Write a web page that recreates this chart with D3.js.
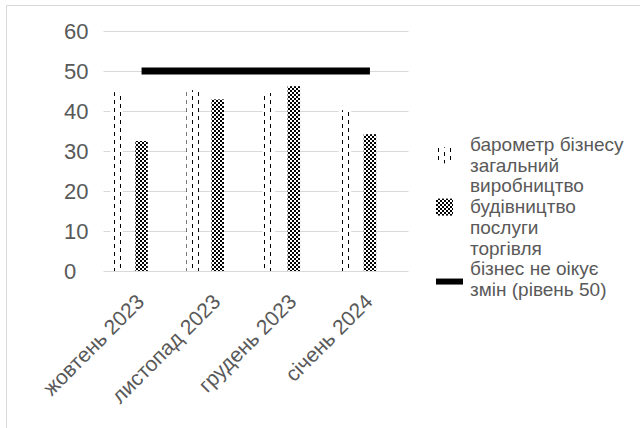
<!DOCTYPE html>
<html>
<head>
<meta charset="utf-8">
<script src="https://cdn.jsdelivr.net/npm/d3@7"></script>
<style>
  html, body { margin: 0; padding: 0; background: #fff; }
  svg { display: block; }
  text { font-family: "Liberation Sans", Arial, sans-serif; fill: #595959; }
</style>
</head>
<body>
<svg id="chart" width="640" height="428"></svg>
<script>
// ---- data ----
const categories = ["жовтень 2023", "листопад 2023", "грудень 2023", "січень 2024"];
const barSeries = ["барометр бізнесу загальний", "виробництво", "будівництво", "послуги", "торгівля"];
const barometer = [44.7, 45.2, 44.5, 40.2];
const construction = [32.5, 42.9, 46.2, 34.2];
const noChange = [50, 50, 50, 50];
const yTicks = [0, 10, 20, 30, 40, 50, 60];
const legendLines = [
  ["барометр бізнесу", "загальний"],
  ["виробництво"],
  ["будівництво"],
  ["послуги"],
  ["торгівля"],
  ["бізнес не оікує", "змін (рівень 50)"]
];

// ---- setup ----
const svg = d3.select("#chart");
const defs = svg.append("defs");

// dashed vertical pattern
const pv = defs.append("pattern").attr("id", "dashv")
  .attr("patternUnits", "userSpaceOnUse").attr("width", 12).attr("height", 8);
pv.append("rect").attr("width", 12).attr("height", 8).attr("fill", "#fff");
pv.append("line").attr("x1", 0.5).attr("x2", 0.5).attr("y1", 0).attr("y2", 4).attr("stroke", "#000").attr("stroke-width", 1);
pv.append("line").attr("x1", 6.5).attr("x2", 6.5).attr("y1", 4).attr("y2", 8).attr("stroke", "#000").attr("stroke-width", 1);

// checker pattern
const pc = defs.append("pattern").attr("id", "checker")
  .attr("patternUnits", "userSpaceOnUse").attr("width", 4).attr("height", 4);
pc.append("rect").attr("width", 4).attr("height", 4).attr("fill", "#fff");
pc.append("rect").attr("width", 2).attr("height", 2).attr("fill", "#000");
pc.append("rect").attr("x", 2).attr("y", 2).attr("width", 2).attr("height", 2).attr("fill", "#000");

// frame
svg.append("path").attr("d", "M6.5,428 V5.5 H640")
  .attr("fill", "none").attr("stroke", "#d9d9d9").attr("stroke-width", 1);

const x = d3.scaleBand().domain(categories).range([103.5, 408]).paddingInner(0.18).paddingOuter(0.09);
const xs = d3.scaleBand().domain(barSeries).range([0, x.bandwidth()]);
const y = d3.scaleLinear().domain([0, 60]).range([271, 31]);

// gridlines
svg.append("g").selectAll("line").data(yTicks).join("line")
  .attr("x1", 103.5).attr("x2", 408.5)
  .attr("y1", d => Math.round(y(d)) + 0.5).attr("y2", d => Math.round(y(d)) + 0.5)
  .attr("stroke", "#d9d9d9").attr("stroke-width", 1);

// y tick labels (left-aligned as in the reference)
svg.append("g").selectAll("text").data(yTicks).join("text")
  .attr("x", 64).attr("y", d => y(d)).attr("dy", "0.36em")
  .attr("text-anchor", "start").attr("font-size", 22)
  .text(d => d);

// bars
const barData = [
  { series: barSeries[0], values: barometer, fill: "url(#dashv)" },
  { series: barSeries[2], values: construction, fill: "url(#checker)" }
];
barData.forEach(s => {
  svg.append("g").selectAll("rect").data(s.values).join("rect")
    .attr("x", (d, i) => x(categories[i]) + xs(s.series))
    .attr("width", xs.bandwidth())
    .attr("y", d => y(d))
    .attr("height", d => y(0) - y(d))
    .attr("fill", s.fill);
});

// level line
const line = d3.line()
  .x((d, i) => x(categories[i]) + x.bandwidth() / 2)
  .y(d => y(d));
svg.append("path").datum(noChange).attr("d", line)
  .attr("fill", "none").attr("stroke", "#000").attr("stroke-width", 7);

// x labels
svg.append("g").selectAll("text").data(categories).join("text")
  .attr("transform", d => `translate(${x(d) + x.bandwidth() / 2 + 4},303) rotate(-45)`)
  .attr("text-anchor", "end").attr("font-size", 21)
  .text(d => d);

// legend
const lg = svg.append("g");
const lineH = 20.7;
let row = 0;
legendLines.forEach((entry, i) => {
  const startRow = row;
  entry.forEach(t => {
    lg.append("text").attr("x", 470).attr("y", 151 + row * lineH)
      .attr("font-size", 19).text(t);
    row++;
  });
  const cy = 151 + (startRow + (entry.length - 1) / 2) * lineH - 6;
  if (i === 0) {
    lg.append("rect").attr("x", 437).attr("y", cy - 8).attr("width", 14).attr("height", 16).attr("fill", "url(#dashv)");
  } else if (i === 2) {
    lg.append("rect").attr("x", 436).attr("y", cy - 8.5).attr("width", 17).attr("height", 17).attr("fill", "url(#checker)");
  } else if (i === 5) {
    lg.append("rect").attr("x", 436).attr("y", cy - 1).attr("width", 27).attr("height", 6).attr("fill", "#000");
  }
});
</script>
</body>
</html>
